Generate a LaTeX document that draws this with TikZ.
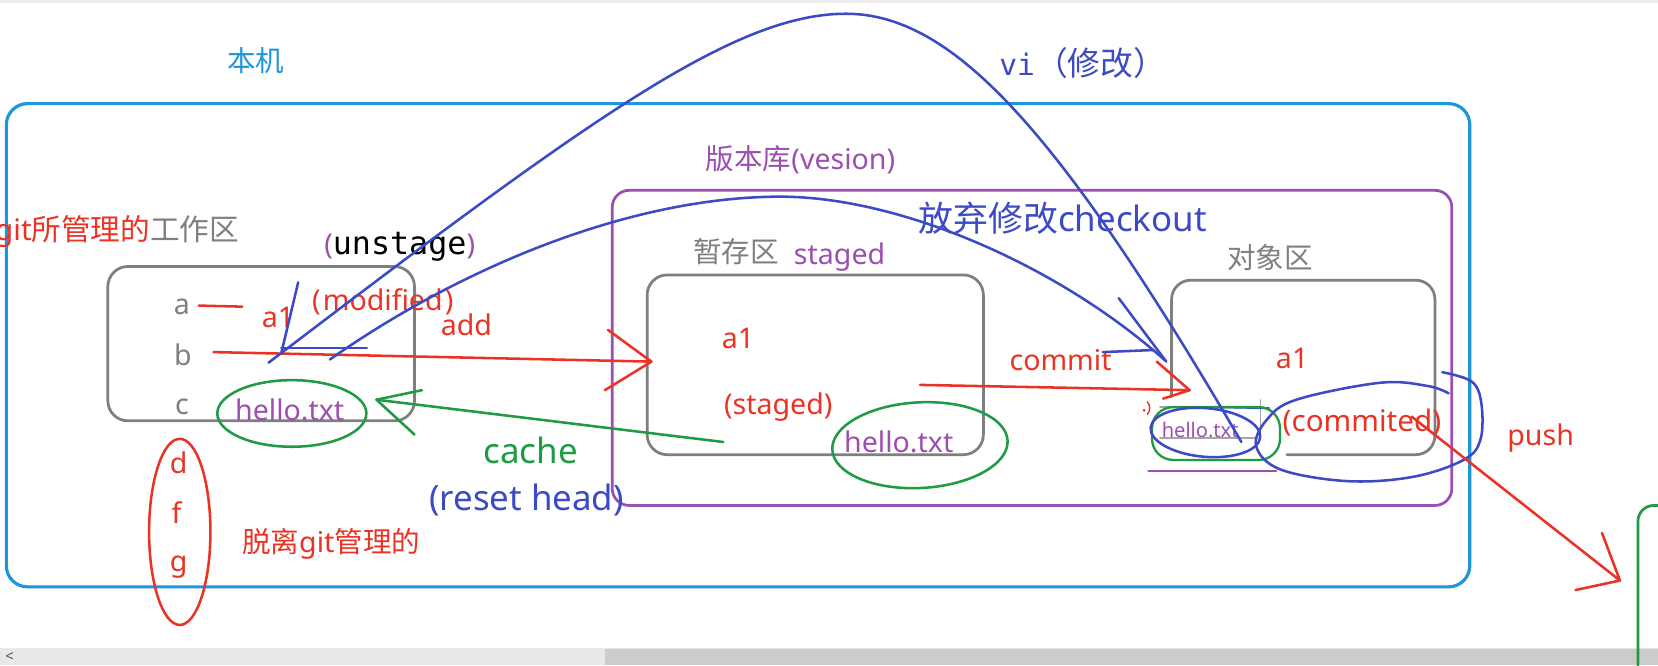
\documentclass[tikz,border=0pt]{standalone}
\usepackage{fontspec}
\setmainfont{Noto Sans}
\newfontfamily\cjk{Noto Sans CJK SC}
\newfontfamily\monof{DejaVu Sans Mono}
\usetikzlibrary{shapes.geometric}
\definecolor{cyanb}{HTML}{1C96DC}
\definecolor{penblue}{HTML}{3C4BC4}
\definecolor{pur}{HTML}{9B4FB0}
\definecolor{pred}{HTML}{EA3325}
\definecolor{pgreen}{HTML}{1F9A45}
\definecolor{gbox}{HTML}{7F7F7F}
\tikzset{
  lbl/.style={inner sep=0pt, outer sep=0pt, font=\fontsize{#1}{#1}\selectfont},
  lbl/.default=27,
  pen/.style={line width=2.4pt},
  area/.style={draw=gbox, line width=2.6pt, rounded corners=19pt, inner sep=0pt},
  oval/.style={ellipse, draw, line width=2.4pt, inner sep=0pt},
}
\begin{document}
\begin{tikzpicture}[x=1pt,y=-1pt,line cap=round,line join=round]
\useasboundingbox (0,0) rectangle (1568,629);
\fill[white] (0,0) rectangle (1568,629);
\fill[black!7] (0,0) rectangle (1568,3);
\fill[black!9] (0,613) rectangle (1568,629);
\fill[black!20] (572,614) rectangle (1568,629);
\node[lbl=14, text=black!70] (sleft) at (9,621) {<};

% outer host box
\node[draw=cyanb, line width=3pt, rounded corners=20pt, minimum width=1384pt, minimum height=457pt, inner sep=0pt] (host) at (698,326.5) {};
\node[lbl, text=cyanb] (hostlbl) at (242,57) {\cjk 本机};

% repository box
\node[draw=pur, line width=2.6pt, rounded corners=16pt, minimum width=794pt, minimum height=298pt, inner sep=0pt] (repo) at (976,329) {};
\node[lbl, text=pur] (repolbl) at (757,151) {{\cjk 版本库}(vesion)};

% workspace
\node[area, minimum width=290pt, minimum height=146pt] (ws) at (247,325) {};
\node[lbl=28, anchor=east] (wslbl) at (226,219) {\textcolor{pred}{git{\cjk 所管理的}}\textcolor{gbox}{\cjk 工作区}};
\node[lbl] (unst) at (378,233) {\textcolor{pur}{(}{\monof\fontsize{30}{30}\selectfont unstage}\textcolor{pur}{)}};
\node[lbl, text=gbox] (fa) at (172,290) {a};
\node[lbl, text=gbox] (fb) at (173,336) {b};
\node[lbl, text=gbox] (fc) at (172,385) {c};
\draw[pred, pen] (188,289) -- (229,290);
\node[lbl, text=pred] (a1w) at (263,300) {a1};
\node[lbl, text=pred] (modw) at (362,285) {(\kern2pt modified\kern2pt)};
\node[lbl, text=pred] (addl) at (441,307) {add};
\node[lbl, text=pur] (hw) at (274,388) {hello.txt};
\node[oval, draw=pgreen, minimum width=141pt, minimum height=63pt] (hwo) at (276,391) {};

% untracked
\node[oval, draw=pred, minimum width=58pt, minimum height=176pt] (untr) at (170,503) {};
\node[lbl, text=pred] (fd) at (169,438) {d};
\node[lbl, text=pred] (ff) at (167,485) {f};
\node[lbl, text=pred] (fg) at (169,536) {g};
\node[lbl, text=pred, anchor=west] (untrl) at (229,514) {{\cjk 脱离}git{\cjk 管理的}};

% staging
\node[lbl, text=gbox] (stlbl) at (696,238) {\cjk 暂存区};
\node[lbl, text=pur] (stg) at (794,243) {staged};
\node[area, minimum width=318pt, minimum height=170pt] (st) at (771,345) {};
\node[lbl, text=pred] (a1s) at (698,320) {a1};
\node[lbl, text=pred] (sts) at (736,385) {(staged)};
\node[lbl, text=pur] (hs) at (850,418) {hello.txt};
\node[oval, draw=pgreen, minimum width=166pt, minimum height=81pt, rotate=3] (hso) at (870,421) {};

% object area
\node[lbl, text=gbox] (oblbl) at (1201,244) {\cjk 对象区};
\draw[gbox, line width=2.6pt, rounded corners=18pt] (1108,375) -- (1108,265) -- (1357,265) -- (1357,430) -- (1217,430);
\node[lbl, text=pred] (a1o) at (1222,339) {a1};
\node[lbl=28, text=pred] (cmo) at (1288,400) {(commited)};
\node[lbl=19, text=pur] (ho) at (1135,407) {hello.txt};
\draw[gbox!70, line width=1.5pt] (1097,385) -- (1192,385);
\draw[gbox!70, line width=1.5pt] (1192,378) -- (1192,414);
\draw[gbox!70, line width=1.5pt] (1097,414) -- (1188,414);
\draw[penblue, line width=2pt] (1152,385) -- (1200,386);
\node[draw=pgreen, line width=2.2pt, rounded corners=20pt, minimum width=121pt, minimum height=50pt, inner sep=0pt] (hoo) at (1150,410) {};
\node[oval, draw=penblue, minimum width=104pt, minimum height=46pt, rotate=-5] (hob) at (1140,409) {};
\draw[pur, line width=1.8pt] (1086,445) -- (1207,445);
\coordinate (loopS) at (1364,352);
\coordinate (loopE) at (1370,372);
\draw[penblue, pen] plot[smooth, tension=0.6] coordinates {(loopS) (1392,361) (1401,382) (1400,416) (1384,435) (1336,451) (1274,455) (1211,444) (1188,422) (1198,397) (1226,378) (1305,362) (1350,365) (loopE)};
\fill[pred] (1082,388) circle (1.4pt);
\draw[pred, line width=1.3pt] (1085,380) to[bend left=40] (1085,392);

% labels of actions
\node[lbl=33, text=penblue] (ckl) at (1005,206) {{\cjk 放弃修改}checkout};
\node[lbl=31, text=penblue] (vil) at (1024,60) {{\monof\fontsize{28}{28}\selectfont vi}{\cjk （修改）}};
\node[lbl=33, text=pgreen] (cachel) at (502,426) {cache};
\node[lbl=33, text=penblue] (rstl) at (498,473) {(reset head)};
\node[lbl, text=pred] (cml) at (1003,341) {commit};
\node[lbl, text=pred] (pushl) at (1457,414) {push};

% remote (partial)
\draw[pgreen, line width=2.6pt, rounded corners=15pt] (1568,478) -- (1549,478) -- (1549,629);

% add
\coordinate (addS) at (202,333);
\coordinate (addT) at (616,342);
\draw[pred, pen] (addS) -- (addT);
\draw[pred, pen] (575,312) -- (addT) -- (572,369);
% commit
\coordinate (cmS) at (870,364);
\coordinate (cmT) at (1125,369);
\draw[pred, pen] (cmS) -- (cmT);
\draw[pred, pen] (1094,342) -- (cmT) -- (1100,377);
% cache
\coordinate (caS) at (684,418);
\coordinate (caT) at (356,378);
\draw[pgreen, pen] (caS) -- (caT);
\draw[pgreen, pen] (399,369) -- (caT) -- (392,411);
% push
\coordinate (puS) at (1335,394);
\coordinate (puT) at (1532,549);
\draw[pred, pen] (puS) -- (puT);
\draw[pred, pen] (1515,504) -- (puT) -- (1490,558);
% vi arc
\coordinate (viS) at (254,343);
\coordinate (viP) at (800,13);
\coordinate (viE) at (1174,418);
\draw[penblue, pen] (viS) .. controls (560,110) and (695,13) .. (viP) .. controls (900,13) and (1000,120) .. (viE);
\draw[penblue, pen] (282,267) -- (266,334);
\draw[penblue, pen] (266,329) -- (347,329);
% checkout arc
\coordinate (coS) at (312,340);
\coordinate (coP) at (738,186);
\coordinate (coE) at (1102,341);
\draw[penblue, pen] (coS) .. controls (440,250) and (600,186) .. (coP) .. controls (850,186) and (1000,250) .. (coE);
\draw[penblue, pen] (1058,282) -- (1103,342);
\draw[penblue, pen] (1043,333) -- (1091,331);
\end{tikzpicture}
\end{document}
